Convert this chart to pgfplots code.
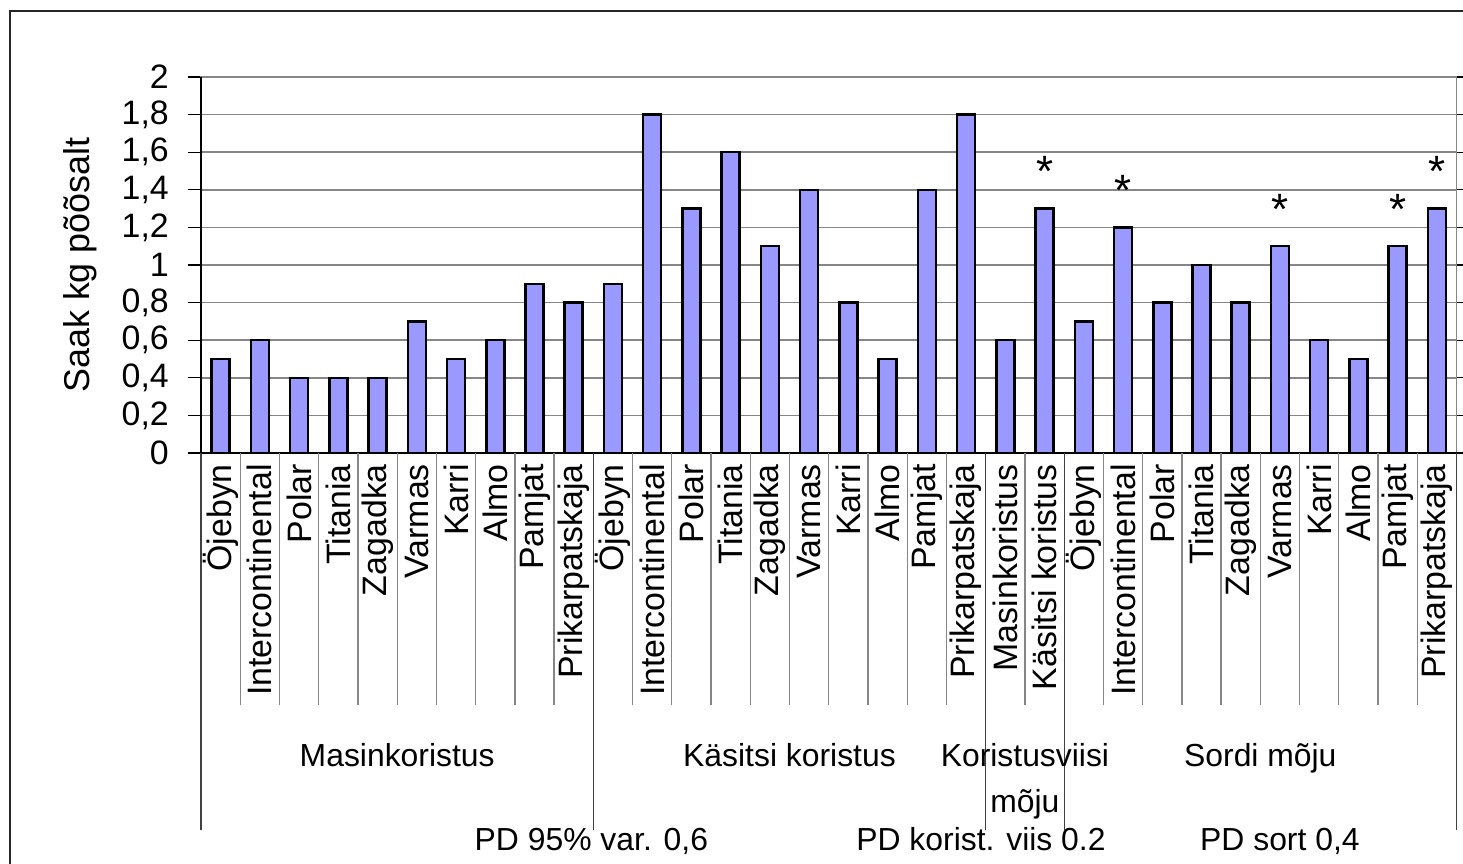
\documentclass[border=0pt]{standalone}
\usepackage{pgfplots}
\pgfplotsset{compat=1.18}
\usepackage{fontspec}
\setmainfont{Liberation Sans}
\definecolor{barblue}{HTML}{9999FF}
\definecolor{gridgray}{HTML}{868686}
\newcommand{\fs}[1]{\fontsize{#1}{#1}\selectfont}
\begin{document}
\begin{tikzpicture}
\useasboundingbox (-201bp,-411bp) rectangle (1262bp,453bp);
\draw[line width=1.5bp, black!85] (-191bp,-420bp) -- (-191bp,442bp) -- (1270bp,442bp);
\begin{axis}[
  scale only axis,
  width=1255.5bp, height=376bp,
  xmin=-0.5, xmax=31.5, ymin=0, ymax=2,
  enlargelimits=false,
  clip=false,
  axis line style={draw=gridgray, line width=1.5bp},
  ymajorgrids,
  grid style={gridgray, line width=1.5bp},
  tick align=outside,
  major tick length=13bp,
  ytick={0,0.2,0.4,0.6,0.8,1,1.2,1.4,1.6,1.8,2},
  yticklabels={0,{0,2},{0,4},{0,6},{0,8},1,{1,2},{1,4},{1,6},{1,8},2},
  yticklabel style={font=\fs{34}, inner sep=0pt, xshift=-19bp},
  ytick style={black, line width=1.3bp},
  xtick={0,...,31},
  xtick style={draw=none},
  xticklabels={Öjebyn,Intercontinental,Polar,Titania,Zagadka,Varmas,Karri,Almo,Pamjat,Prikarpatskaja,
    Öjebyn,Intercontinental,Polar,Titania,Zagadka,Varmas,Karri,Almo,Pamjat,Prikarpatskaja,
    Masinkoristus,Käsitsi koristus,
    Öjebyn,Intercontinental,Polar,Titania,Zagadka,Varmas,Karri,Almo,Pamjat,Prikarpatskaja},
  xticklabel style={font=\fs{34}, rotate=90, anchor=east, inner sep=0pt, xshift=2bp},
  ylabel={Saak kg põõsalt},
  ylabel style={font=\fs{36}, at={(rel axis cs:0,0.5)}, anchor=center, yshift=121bp},
]
\addplot[ybar, bar width=18bp, fill=barblue, draw=black, line width=2.5bp] coordinates {
 (0,0.5) (1,0.6) (2,0.4) (3,0.4) (4,0.4) (5,0.7) (6,0.5) (7,0.6) (8,0.9) (9,0.8)
 (10,0.9) (11,1.8) (12,1.3) (13,1.6) (14,1.1) (15,1.4) (16,0.8) (17,0.5) (18,1.4) (19,1.8)
 (20,0.6) (21,1.3)
 (22,0.7) (23,1.2) (24,0.8) (25,1.0) (26,0.8) (27,1.1) (28,0.6) (29,0.5) (30,1.1) (31,1.3)
};
\addplot[draw=none, mark=none, nodes near coords, point meta=explicit symbolic,
  nodes near coords style={font=\fs{44}, anchor=south, inner sep=0pt, yshift=22bp}]
  coordinates {(21,1.3) [*] (23,1.2) [*] (27,1.1) [*] (30,1.1) [*] (31,1.3) [*]};
\draw[black, line width=1.5bp] (rel axis cs:0,1) -- (rel axis cs:0,0) -- (rel axis cs:1,0);
\pgfplotsinvokeforeach{-0.5,0.5,...,31.5}{
  \draw[gridgray, line width=1.3bp] (axis cs:#1,0) -- ([yshift=-252bp]axis cs:#1,0);
}
\pgfplotsinvokeforeach{-0.5,9.5,19.5,21.5,31.5}{
  \draw[black!75, line width=1.3bp] (axis cs:#1,0) -- ([yshift=-377bp]axis cs:#1,0);
}
\node[font=\fs{32}, anchor=base] at (axis cs:4.5,0) [yshift=-313bp] {Masinkoristus};
\node[font=\fs{32}, anchor=base] at (axis cs:14.5,0) [yshift=-313bp] {Käsitsi koristus};
\node[font=\fs{32}, anchor=base] at (axis cs:20.5,0) [yshift=-313bp] {Koristusviisi};
\node[font=\fs{32}, anchor=base] at (axis cs:20.5,0) [yshift=-359bp] {mõju};
\node[font=\fs{32}, anchor=base] at (axis cs:26.5,0) [yshift=-313bp] {Sordi mõju};
\node[font=\fs{32}, anchor=base] at (axis cs:9.45,0) [yshift=-397bp] {PD 95\% var. 0,6};
\node[font=\fs{32}, anchor=base] at (axis cs:19.38,0) [yshift=-397bp] {PD korist. viis 0.2};
\node[font=\fs{32}, anchor=base] at (axis cs:27.0,0) [yshift=-397bp] {PD sort 0,4};
\end{axis}
\end{tikzpicture}
\end{document}
